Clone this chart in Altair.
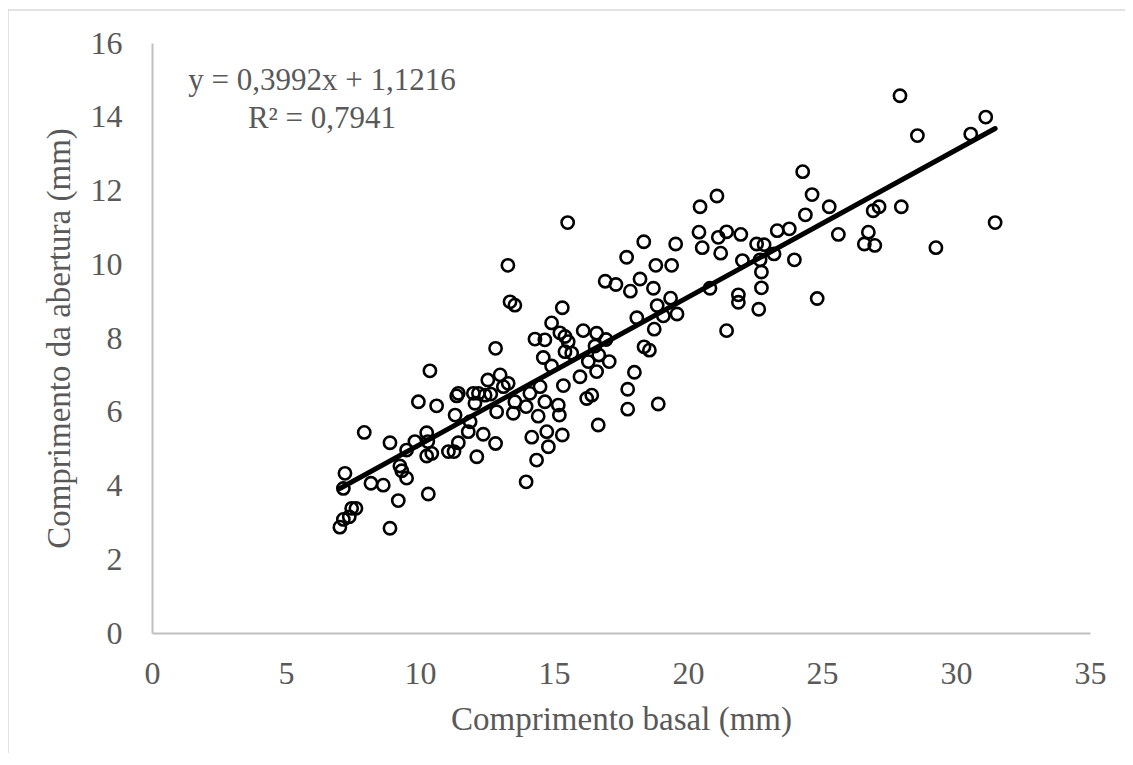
import altair as alt
import pandas as pd

# Comprimento basal (mm)
basal = [
    7.01, 7.14, 7.36, 7.45, 7.61, 7.20, 7.14, 7.92, 8.17, 8.63,
    8.88, 9.19, 8.88, 9.25, 9.32, 9.50, 9.50, 9.81, 10.25, 10.29,
    10.25, 10.44, 10.31, 11.06, 11.27, 11.43, 12.12, 11.80, 12.36, 12.82,
    11.31, 11.87, 9.94, 10.62, 10.37, 11.37, 11.43, 11.99, 12.18, 12.43,
    12.64, 12.53, 12.99, 13.29, 13.11, 12.05, 12.86, 12.82, 13.36, 13.54,
    13.28, 13.48, 13.54, 13.96, 14.41, 14.17, 14.73, 15.31, 14.79, 14.35,
    13.96, 14.10, 14.48, 14.66, 15.16, 15.20, 15.35, 15.97, 16.28, 16.59,
    16.22, 16.41, 16.65, 14.60, 14.91, 15.41, 15.66, 14.29, 14.66, 14.91,
    15.22, 15.41, 15.53, 15.31, 16.09, 16.59, 16.94, 16.53, 17.06, 16.67,
    15.51, 16.91, 17.31, 17.85, 17.71, 18.21, 18.35, 18.71, 18.80, 19.39,
    19.54, 19.35, 18.85, 19.08, 19.59, 18.09, 18.74, 18.36, 18.56, 18.00,
    17.75, 17.75, 18.89, 20.41, 20.45, 21.08, 20.53, 21.13, 21.44, 21.97,
    21.22, 22.03, 20.82, 21.88, 21.88, 21.44, 22.56, 22.84, 22.69, 22.74,
    22.74, 22.64, 23.21, 23.33, 23.78, 23.97, 24.28, 24.63, 24.38, 25.27,
    24.82, 25.61, 26.73, 26.58, 26.97, 26.91, 27.13, 27.96, 27.91, 28.56,
    29.25, 30.55, 31.11, 31.46,
]

# Comprimento da abertura (mm)
abertura = [
    2.87, 3.08, 3.15, 3.38, 3.38, 4.33, 3.92, 5.44, 4.06, 4.01,
    2.84, 3.59, 5.16, 4.53, 4.40, 4.20, 4.96, 5.19, 5.43, 5.19,
    4.80, 4.87, 3.77, 4.92, 4.92, 5.16, 4.78, 5.46, 5.39, 5.14,
    5.91, 5.73, 6.27, 6.16, 7.11, 6.43, 6.50, 6.50, 6.50, 6.45,
    6.48, 6.86, 7.00, 6.77, 6.68, 6.23, 6.00, 7.72, 8.98, 8.89,
    9.97, 5.96, 6.27, 6.14, 5.88, 5.31, 5.46, 5.37, 5.05, 4.69,
    4.10, 6.50, 6.68, 6.27, 6.18, 5.91, 6.71, 6.95, 7.36, 7.09,
    6.36, 6.45, 5.64, 7.47, 7.24, 7.63, 7.59, 7.97, 7.95, 8.41,
    8.14, 8.04, 7.90, 8.82, 8.20, 8.13, 7.96, 7.78, 7.36, 7.54,
    11.13, 9.54, 9.45, 9.27, 10.19, 9.60, 10.61, 9.35, 9.97, 9.97,
    10.55, 9.08, 8.88, 8.60, 8.65, 8.55, 8.24, 7.76, 7.67, 7.07,
    6.61, 6.07, 6.21, 10.87, 11.56, 11.85, 10.45, 10.73, 10.88, 10.81,
    10.30, 10.10, 9.35, 9.17, 8.97, 8.20, 10.55, 10.53, 10.12, 9.79,
    9.36, 8.78, 10.28, 10.91, 10.96, 10.12, 12.51, 11.89, 11.34, 11.56,
    9.07, 10.81, 10.87, 10.55, 10.51, 11.45, 11.56, 11.56, 14.57, 13.49,
    10.45, 13.53, 13.99, 11.13,
]

# Trend line from the equation shown in the chart
SLOPE = 0.3992
INTERCEPT = 1.1216
equation_lines = ["y = 0,3992x + 1,1216", "R² = 0,7941"]

x_ticks = [0, 5, 10, 15, 20, 25, 30, 35]
y_ticks = [0, 2, 4, 6, 8, 10, 12, 14, 16]

FONT = "Liberation Serif"
TXT = "#595959"
AXC = "#BFBFBF"

df = pd.DataFrame({"basal": basal, "abertura": abertura})
trend_x = [min(basal), max(basal)]
trend = pd.DataFrame({"basal": trend_x,
                      "abertura": [SLOPE * v + INTERCEPT for v in trend_x]})

xenc = alt.X("basal:Q",
             scale=alt.Scale(domain=[0, 35], nice=False),
             axis=alt.Axis(values=x_ticks, title="Comprimento basal (mm)",
                           grid=False, ticks=False, tickSize=0,
                           labelFlush=False, labelOverlap=False,
                           labelPadding=25, titlePadding=14))
yenc = alt.Y("abertura:Q",
             scale=alt.Scale(domain=[0, 16], nice=False),
             axis=alt.Axis(values=y_ticks, title="Comprimento da abertura (mm)",
                           grid=False, ticks=False, tickSize=0,
                           labelOverlap=False, labelPadding=30,
                           titlePadding=14))

points = alt.Chart(df).mark_point(
    shape="circle", filled=False, stroke="black", strokeWidth=2.6,
    size=150, opacity=1
).encode(x=xenc, y=yenc)

line = alt.Chart(trend).mark_line(
    color="black", strokeWidth=5, strokeCap="round"
).encode(x="basal:Q", y="abertura:Q")

eq = alt.Chart(pd.DataFrame({"t": [equation_lines]})).mark_text(
    font=FONT, fontSize=31, color=TXT, align="center",
    baseline="alphabetic", lineHeight=38
).encode(x=alt.value(170), y=alt.value(47), text="t")

border_left = alt.Chart(pd.DataFrame({"a": [0]})).mark_rule(
    color="#D9D9D9", strokeWidth=1.5
).encode(x=alt.value(-144), y=alt.value(-33), y2=alt.value(712))

border_top = alt.Chart(pd.DataFrame({"a": [0]})).mark_rule(
    color="#D9D9D9", strokeWidth=1.5
).encode(x=alt.value(-144), x2=alt.value(973), y=alt.value(-33))

chart = alt.layer(border_left, border_top, points, line, eq).properties(
    width=938, height=590,
    autosize=alt.AutoSizeParams(type="none"),
    padding={"left": 144, "top": 35, "right": 35, "bottom": 120},
).configure_view(stroke=None).configure_axis(
    domainColor=AXC, domainWidth=2,
    labelFont=FONT, labelFontSize=32, labelColor=TXT,
    titleFont=FONT, titleFontSize=33, titleColor=TXT, titleFontWeight="normal",
)

chart.save("out.html", embed_options={"renderer": "svg", "actions": False})
